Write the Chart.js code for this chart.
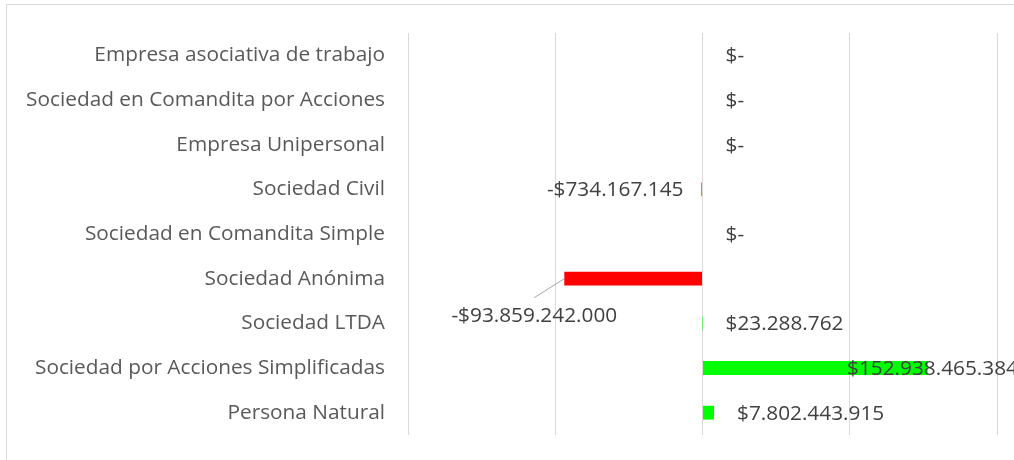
<!DOCTYPE html>
<html>
<head>
<meta charset="utf-8">
<script src="https://cdn.jsdelivr.net/npm/chart.js@4/dist/chart.umd.min.js"></script>
<style>
  html, body { margin: 0; padding: 0; background: #fff; }
  canvas { display: block; }
</style>
</head>
<body>
<canvas id="chart" width="1014" height="460"></canvas>
<script>
// --- data ---
const categories = [
  "Empresa asociativa de trabajo",
  "Sociedad en Comandita por Acciones",
  "Empresa Unipersonal",
  "Sociedad Civil",
  "Sociedad en Comandita Simple",
  "Sociedad Anónima",
  "Sociedad LTDA",
  "Sociedad por Acciones Simplificadas",
  "Persona Natural"
];
const values = [0, 0, 0, -734167145, 0, -93859242000, 23288762, 152938465384, 7802443915];
const axisMin = -200000000000;
const axisMax = 200000000000;
const axisStep = 100000000000;

const FONT = "'Open Sans', sans-serif";
const FONT_SIZE = 20.8;

function money(v) {
  if (v === 0) return "$-";
  const s = Math.abs(v).toString().replace(/\B(?=(\d{3})+(?!\d))/g, ".");
  return (v < 0 ? "-$" : "$") + s;
}

// white background + thin outer frame like the office chart box
const framePlugin = {
  id: "frame",
  beforeDraw(chart) {
    const ctx = chart.ctx;
    ctx.save();
    ctx.fillStyle = "#ffffff";
    ctx.fillRect(0, 0, chart.width, chart.height);
    ctx.strokeStyle = "#d9d9d9";
    ctx.lineWidth = 1;
    ctx.strokeRect(6.5, 4.5, chart.width + 10, chart.height + 10);
    ctx.restore();
  }
};

// value labels (no datalabels plugin here, so draw them by hand)
const labelPlugin = {
  id: "valueLabels",
  afterDatasetsDraw(chart) {
    const ctx = chart.ctx;
    const meta = chart.getDatasetMeta(0);
    ctx.save();
    ctx.font = FONT_SIZE + "px " + FONT;
    ctx.fillStyle = "#404040";
    ctx.textBaseline = "middle";
    meta.data.forEach((bar, i) => {
      const v = values[i];
      const txt = money(v);
      const w = ctx.measureText(txt).width;
      const y = bar.y + 1;
      if (categories[i] === "Sociedad Anónima") {
        // label pulled away from the bar with a leader line
        const cx = bar.x - 30;
        const ly = bar.y + 37;
        ctx.strokeStyle = "#a6a6a6";
        ctx.lineWidth = 1;
        ctx.beginPath();
        ctx.moveTo(cx, ly - 18);
        ctx.lineTo(bar.x, bar.y);
        ctx.stroke();
        ctx.textAlign = "center";
        ctx.fillText(txt, cx, ly);
        return;
      }
      if (v < 0) {
        ctx.textAlign = "right";
        ctx.fillText(txt, bar.x - 18, y);
      } else {
        let x = (v === 0 ? bar.base : bar.x) + 23;
        const limit = chart.width + 4;
        if (x + w > limit) x = limit - w;
        ctx.textAlign = "left";
        ctx.fillText(txt, x, y);
      }
    });
    ctx.restore();
  }
};

new Chart(document.getElementById("chart"), {
  type: "bar",
  data: {
    labels: categories,
    datasets: [{
      data: values,
      backgroundColor: values.map(v => v < 0 ? "#ff0000" : "#00ff00"),
      borderWidth: 0,
      categoryPercentage: 0.62,
      barPercentage: 0.5
    }]
  },
  options: {
    indexAxis: "y",
    responsive: false,
    animation: false,
    layout: { padding: { top: 33, bottom: 25, left: 0, right: 17 } },
    plugins: {
      legend: { display: false },
      tooltip: { enabled: false }
    },
    scales: {
      x: {
        min: axisMin,
        max: axisMax,
        ticks: { display: false, stepSize: axisStep },
        grid: { color: "#d9d9d9", drawTicks: false },
        border: { display: false },
        afterFit(scale) { scale.height = 0; }
      },
      y: {
        grid: { display: false, drawTicks: false },
        border: { display: false },
        ticks: {
          color: "#595959",
          padding: 23,
          font: { family: FONT, size: FONT_SIZE }
        },
        afterFit(scale) {
          scale.width = 408;
          scale.paddingTop = 0;
          scale.paddingBottom = 0;
        }
      }
    }
  },
  plugins: [framePlugin, labelPlugin]
});
</script>
</body>
</html>
